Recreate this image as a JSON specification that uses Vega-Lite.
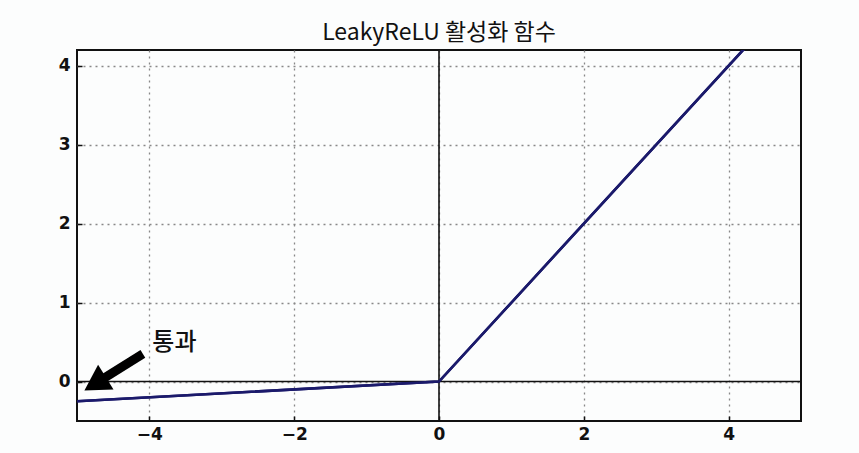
{
  "$schema": "https://vega.github.io/schema/vega-lite/v6.json",
  "width": 724,
  "height": 371,
  "autosize": {"type": "none"},
  "padding": {"left": 77, "top": 50, "right": 58, "bottom": 32},
  "background": "#fcfdfd",
  "title": {"text": "LeakyReLU 활성화 함수", "font": "Noto Sans CJK KR", "fontSize": 23, "fontWeight": "normal", "color": "#111111", "offset": 4},
  "config": {
    "view": {"stroke": "#111111", "strokeWidth": 2},
    "axis": {
      "labelFont": "DejaVu Sans", "labelFontSize": 17, "labelColor": "#111111", "labelFontWeight": 600,
      "gridColor": "#888888", "gridDash": [2, 4], "gridWidth": 1.3, "gridOpacity": 1,
      "domain": false, "tickColor": "#111111", "tickSize": -5, "tickWidth": 1.5,
      "title": null, "format": "d"
    }
  },
  "datasets": {
    "curve": [{"x": -5, "y": -0.25}, {"x": 0, "y": 0}, {"x": 5, "y": 5}],
    "arrow": [{"x": -4.09, "y": 0.35, "x2": -4.72, "y2": -0.01}],
    "head": [{"x": -4.75, "y": -0.03}],
    "label": [{"x": -3.96, "y": 0.49, "text": "통과"}]
  },
  "layer": [
    {
      "data": {"name": "curve"},
      "mark": {"type": "line", "color": "#1b1a6b", "strokeWidth": 2.6, "clip": true},
      "encoding": {
        "x": {"field": "x", "type": "quantitative", "scale": {"domain": [-5, 5], "nice": false, "zero": false},
              "axis": {"values": [-4, -2, 0, 2, 4], "labelPadding": 10}},
        "y": {"field": "y", "type": "quantitative", "scale": {"domain": [-0.5, 4.2], "nice": false, "zero": false},
              "axis": {"values": [0, 1, 2, 3, 4], "labelPadding": 12}}
      }
    },
    {
      "data": {"values": [{}]},
      "mark": {"type": "rule", "color": "#111111", "strokeWidth": 1.6},
      "encoding": {"y": {"datum": 0, "type": "quantitative"}}
    },
    {
      "data": {"values": [{}]},
      "mark": {"type": "rule", "color": "#111111", "strokeWidth": 1.6},
      "encoding": {"x": {"datum": 0, "type": "quantitative"}}
    },
    {
      "data": {"name": "curve"},
      "mark": {"type": "line", "color": "#1b1a6b", "strokeWidth": 2.6, "clip": true},
      "encoding": {
        "x": {"field": "x", "type": "quantitative"},
        "y": {"field": "y", "type": "quantitative"}
      }
    },
    {
      "data": {"name": "arrow"},
      "mark": {"type": "rule", "color": "#000000", "strokeWidth": 9},
      "encoding": {
        "x": {"field": "x", "type": "quantitative"},
        "y": {"field": "y", "type": "quantitative"},
        "x2": {"field": "x2"},
        "y2": {"field": "y2"}
      }
    },
    {
      "data": {"name": "head"},
      "mark": {"type": "point", "shape": "triangle-up", "filled": true, "color": "#000000", "opacity": 1, "size": 850, "angle": 238},
      "encoding": {
        "x": {"field": "x", "type": "quantitative"},
        "y": {"field": "y", "type": "quantitative"}
      }
    },
    {
      "data": {"name": "label"},
      "mark": {"type": "text", "align": "left", "baseline": "middle", "font": "Noto Sans CJK KR", "fontSize": 24, "fontWeight": 500, "color": "#111111"},
      "encoding": {
        "x": {"field": "x", "type": "quantitative"},
        "y": {"field": "y", "type": "quantitative"},
        "text": {"field": "text"}
      }
    }
  ]
}
